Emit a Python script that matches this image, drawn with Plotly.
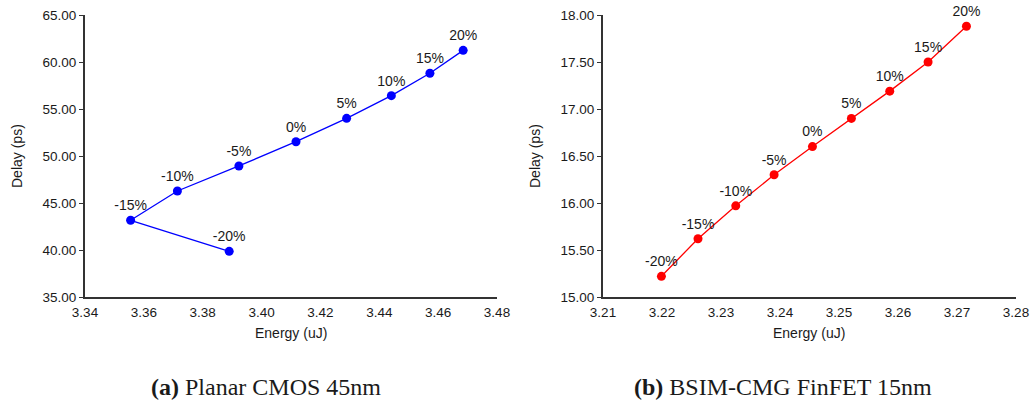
import plotly.graph_objects as go

labels = ["-20%", "-15%", "-10%", "-5%", "0%", "5%", "10%", "15%", "20%"]

cmos_energy = [3.3890, 3.3555, 3.3714, 3.3923, 3.4117, 3.4289, 3.4441, 3.4572, 3.4685]
cmos_delay = [39.86, 43.16, 46.28, 48.94, 51.52, 54.01, 56.42, 58.80, 61.24]

finfet_energy = [3.2199, 3.2261, 3.2325, 3.2390, 3.2455, 3.2521, 3.2586, 3.2651, 3.2716]
finfet_delay = [15.22, 15.62, 15.97, 16.30, 16.60, 16.90, 17.19, 17.50, 17.88]

W, H = 1034, 402
FONT = "Liberation Sans, Arial, sans-serif"
TXT = "#1a1a1a"

fig = go.Figure()

fig.add_trace(go.Scatter(
    x=cmos_energy, y=cmos_delay, text=labels, mode="lines+markers+text",
    textposition="top center", textfont=dict(family=FONT, size=14, color=TXT),
    line=dict(color="#0000ff", width=1.3), marker=dict(color="#0000ff", size=9),
    xaxis="x", yaxis="y", showlegend=False, cliponaxis=False))

fig.add_trace(go.Scatter(
    x=finfet_energy, y=finfet_delay, text=labels, mode="lines+markers+text",
    textposition="top center", textfont=dict(family=FONT, size=14, color=TXT),
    line=dict(color="#ff0000", width=1.3), marker=dict(color="#ff0000", size=9),
    xaxis="x2", yaxis="y2", showlegend=False, cliponaxis=False))

ydom = [(H - 297) / H, (H - 15) / H]

def xax(dom, rng, dtick):
    return dict(domain=dom, range=rng, dtick=dtick, tick0=rng[0], tickformat=".2f",
                showline=True, linecolor="#333333", linewidth=2, showgrid=False,
                zeroline=False, ticks="", ticklabelstandoff=2, automargin=False,
                tickfont=dict(family=FONT, size=13.5, color=TXT))

def yax(rng, dtick, anchor):
    return dict(domain=ydom, range=rng, dtick=dtick, tick0=rng[0], tickformat=".2f",
                showline=True, linecolor="#333333", linewidth=2, showgrid=False,
                zeroline=False, ticks="outside", ticklen=4, tickwidth=1, tickcolor="#333333",
                anchor=anchor, automargin=False,
                tickfont=dict(family=FONT, size=13.5, color=TXT))

fig.update_layout(
    template="none",
    width=W, height=H, margin=dict(l=0, r=0, t=0, b=0, autoexpand=False),
    paper_bgcolor="white", plot_bgcolor="white",
    xaxis=dict(**xax([85 / W, 497 / W], [3.34, 3.48], 0.02), anchor="y"),
    yaxis=yax([35, 65], 5, "x"),
    xaxis2=dict(**xax([603 / W, 1016 / W], [3.21, 3.28], 0.01), anchor="y2"),
    yaxis2=yax([15, 18], 0.5, "x2"),
)

def ann(text, x, y, size, family=FONT, angle=0):
    fig.add_annotation(text=text, x=x / W, y=1 - y / H, xref="paper", yref="paper",
                       showarrow=False, xanchor="center", yanchor="middle",
                       textangle=angle, font=dict(family=family, size=size, color=TXT))

ann("Energy (uJ)", 291, 333, 14)
ann("Energy (uJ)", 809, 333, 14)
ann("Delay (ps)", 17, 156, 14, angle=-90)
ann("Delay (ps)", 535, 156, 14, angle=-90)
SERIF = "Liberation Serif, Times New Roman, serif"
ann("<b>(a)</b> Planar CMOS 45nm", 265.5, 387, 24, family=SERIF)
ann("<b>(b)</b> BSIM-CMG FinFET 15nm", 783, 387, 24, family=SERIF)

fig.write_html("out.html", config={"displayModeBar": False},
               post_script="document.body.style.margin='0';document.body.style.overflow='hidden';")
